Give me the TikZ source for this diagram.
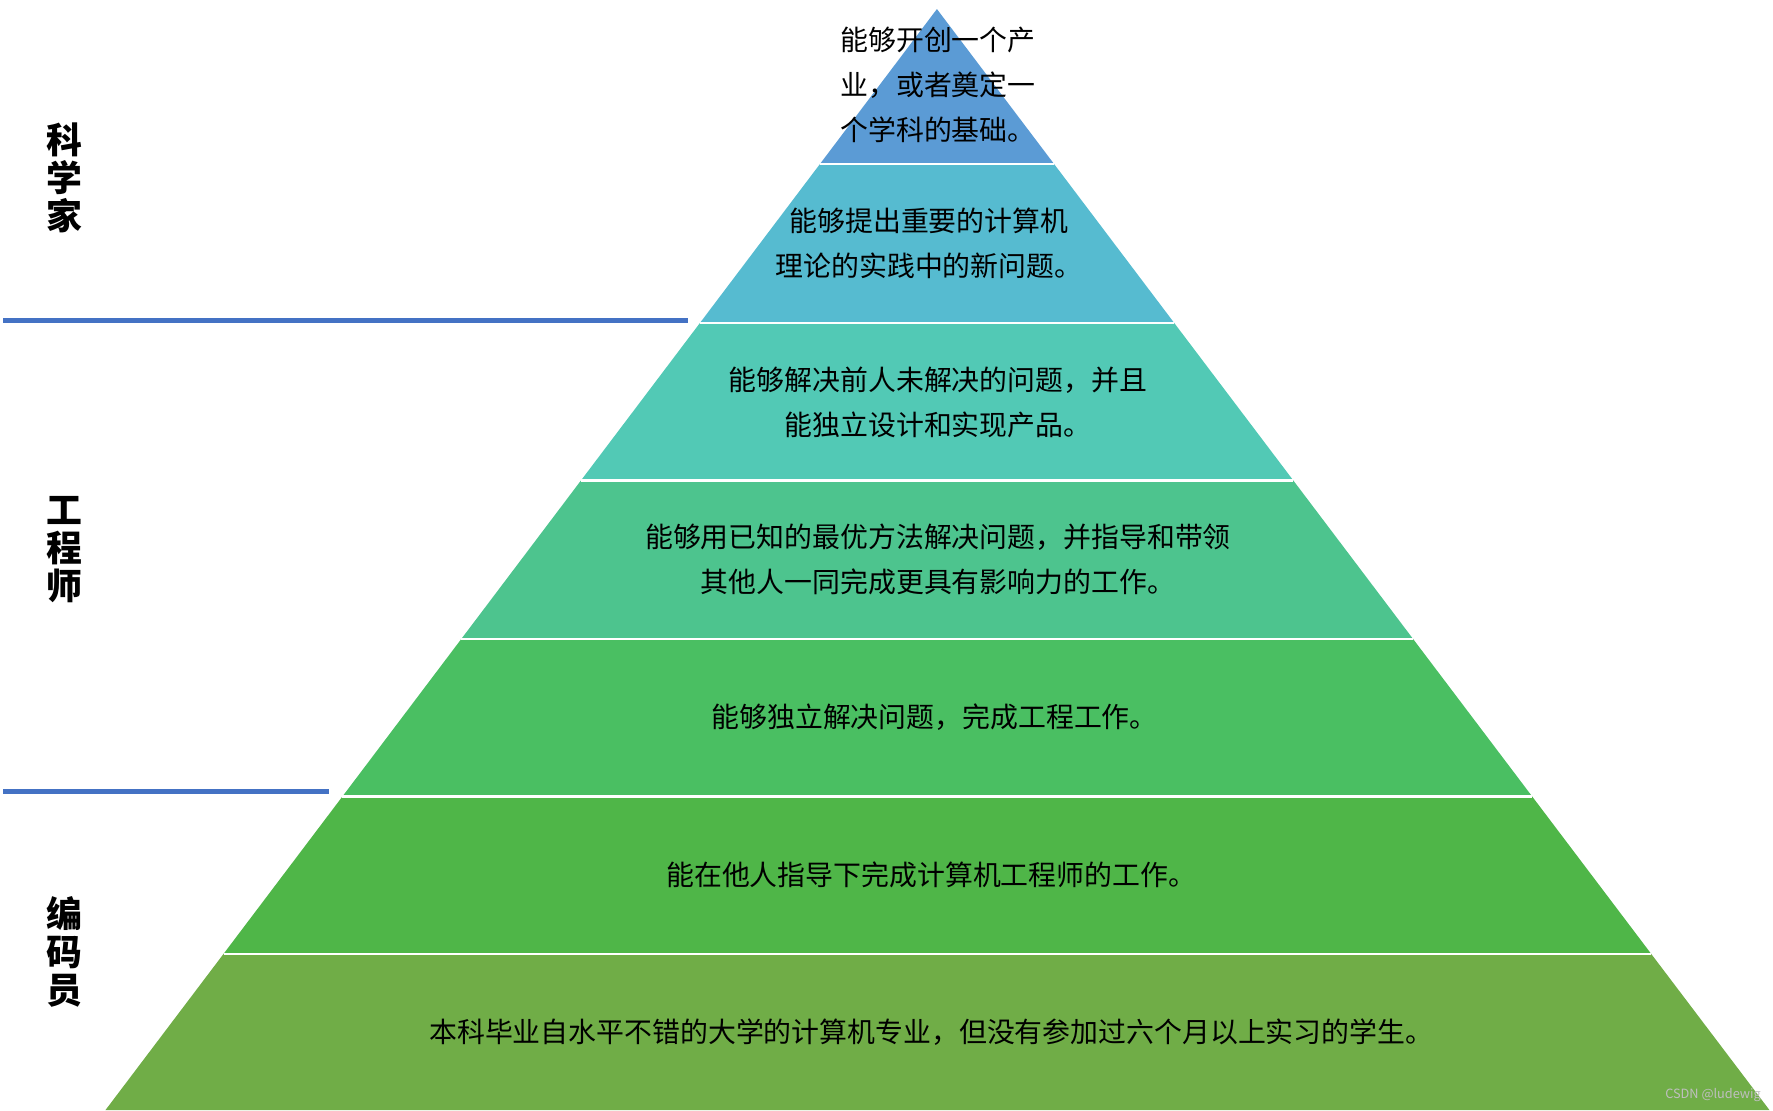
\documentclass[tikz,border=0pt]{standalone}
\usepackage{fontspec}
\setmainfont{Noto Sans CJK SC}
\usetikzlibrary{positioning}
\definecolor{cTop}{RGB}{91,155,213}
\definecolor{cA}{RGB}{86,187,208}
\definecolor{cB}{RGB}{82,201,181}
\definecolor{cC}{RGB}{77,196,142}
\definecolor{cD}{RGB}{74,191,98}
\definecolor{cE}{RGB}{79,182,72}
\definecolor{cF}{RGB}{112,173,71}
\definecolor{cLine}{RGB}{68,114,196}

\begin{document}
\begin{tikzpicture}[
    x=0.01cm, y=-0.01cm,
    layer/.style={draw=white, line width=0.6pt},
    tier/.style={font=\fontsize{7}{11.3}\selectfont, align=center, inner sep=0pt},
    role/.style={font=\fontsize{9}{9.5}\selectfont\bfseries, align=center, inner sep=0pt},
    divider/.style={draw=cLine, line width=1.2pt}
]
\useasboundingbox (0,0) rectangle (1565,980);

% Layers
\fill[cTop] (827,8) -- (930.6,145) -- (723.6,145) -- cycle;
\foreach \ya/\la/\ra/\yb/\lb/\rb/\col in {
    145/723.6/930.6/285/617.9/1036.4/cA,
    285/617.9/1036.4/424/512.9/1141.5/cB,
    424/512.9/1141.5/564/407.2/1247.3/cC,
    564/407.2/1247.3/703/302.3/1352.4/cD,
    703/302.3/1352.4/842/197.3/1457.5/cE,
    842/197.3/1457.5/980/93/1562/cF}
    \fill[\col] (\la,\ya) -- (\ra,\ya) -- (\rb,\yb) -- (\lb,\yb) -- cycle;
\foreach \y/\l/\r in {145/723.6/930.6, 285/617.9/1036.4, 424/512.9/1141.5,
    564/407.2/1247.3, 703/302.3/1352.4, 842/197.3/1457.5}
    \draw[layer] (\l,\y) -- (\r,\y);

% Texts
\node[tier, align=left] (t1) at (828,75) {能够开创一个产\\业，或者奠定一\\个学科的基础。};
\node[tier] (t2) at (820,215) {能够提出重要的计算机\\理论的实践中的新问题。};
\node[tier] (t3) at (828,355) {能够解决前人未解决的问题，并且\\能独立设计和实现产品。};
\node[tier] (t4) at (828,494) {能够用已知的最优方法解决问题，并指导和带领\\其他人一同完成更具有影响力的工作。};
\node[tier] (t5) at (825,633) {能够独立解决问题，完成工程工作。};
\node[tier] (t6) at (822,772) {能在他人指导下完成计算机工程师的工作。};
\node[tier] (t7) at (822,911) {本科毕业自水平不错的大学的计算机专业，但没有参加过六个月以上实习的学生。};

% Roles
\node[role] (sci) at (57,157) {科\\学\\家};
\node[role] (eng) at (57,485) {工\\程\\师};
\node[role] (cod) at (57,840) {编\\码\\员};
\coordinate (d1a) at (3,283);
\coordinate (d1b) at (607,283);
\coordinate (d2a) at (3,699);
\coordinate (d2b) at (290,699);
\draw[divider] (d1a) -- (d1b);
\draw[divider] (d2a) -- (d2b);

\node[font=\fontsize{3.2}{4}\selectfont, text=white!75!black, anchor=east, inner sep=0pt] (mark) at (1555,967) {CSDN @ludewig};
\end{tikzpicture}
\end{document}
